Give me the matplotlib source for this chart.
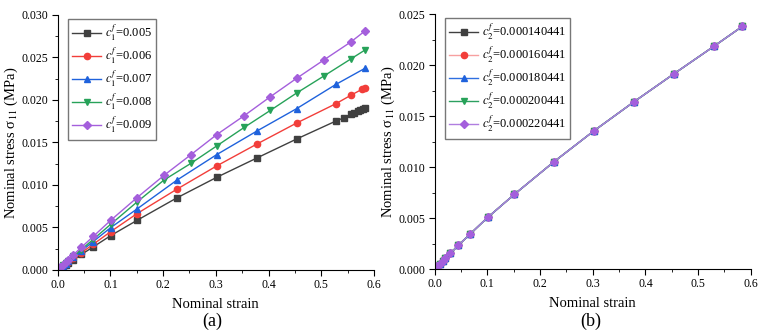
import matplotlib
matplotlib.use('Agg')
import matplotlib.pyplot as plt
from matplotlib.ticker import MultipleLocator, FormatStrFormatter

plt.rcParams['font.family'] = ['Liberation Serif', 'DejaVu Serif']
plt.rcParams['mathtext.fontset'] = 'stix'

# panel (a): varying c1
strain_a1 = [0, 0.005, 0.01, 0.015, 0.02, 0.03, 0.045, 0.0675, 0.1005, 0.1505, 0.2257, 0.3016,
             0.378, 0.4533, 0.528, 0.543, 0.556, 0.563, 0.569, 0.574, 0.579, 0.583]
stress_a1 = [0, 0.0002, 0.0004, 0.0006, 0.0008, 0.00122, 0.00183, 0.00272, 0.00404, 0.00584, 0.00847, 0.0109,
             0.01318, 0.01541, 0.01753, 0.0179, 0.0183, 0.01848, 0.01866, 0.0188, 0.01895, 0.0191]
strain_a2 = [0, 0.005, 0.01, 0.015, 0.02, 0.03, 0.045, 0.0675, 0.1005, 0.1505, 0.2257, 0.3016,
             0.378, 0.4533, 0.528, 0.556, 0.577, 0.583]
stress_a2 = [0, 0.00023, 0.00046, 0.00068, 0.0009, 0.00136, 0.00203, 0.00303, 0.00451, 0.00663, 0.00949, 0.01224,
             0.01482, 0.01729, 0.01957, 0.02055, 0.02125, 0.02145]
strain_a3 = [0, 0.005, 0.01, 0.015, 0.02, 0.03, 0.045, 0.0675, 0.1005, 0.1505, 0.2257, 0.3016,
             0.378, 0.4533, 0.528, 0.583]
stress_a3 = [0, 0.00025, 0.0005, 0.00075, 0.001, 0.0015, 0.00224, 0.00335, 0.00498, 0.00718, 0.01055, 0.01357,
             0.01635, 0.01898, 0.02184, 0.02373]
strain_a4 = [0, 0.005, 0.01, 0.015, 0.02, 0.03, 0.045, 0.0675, 0.1005, 0.1505, 0.2018, 0.2529, 0.3016,
             0.354, 0.4036, 0.4533, 0.505, 0.556, 0.583]
stress_a4 = [0, 0.00027, 0.00054, 0.0008, 0.00107, 0.0016, 0.0024, 0.00361, 0.00537, 0.00800, 0.01059, 0.01255, 0.01459,
             0.01678, 0.01878, 0.02082, 0.02282, 0.02482, 0.02588]
strain_a5 = [0, 0.005, 0.01, 0.015, 0.02, 0.03, 0.045, 0.0675, 0.1005, 0.1505, 0.2018, 0.2529, 0.3016,
             0.354, 0.4036, 0.4533, 0.505, 0.556, 0.583]
stress_a5 = [0, 0.0003, 0.0006, 0.0009, 0.0012, 0.0018, 0.00267, 0.00395, 0.00584, 0.00851, 0.01114, 0.01357, 0.01592,
             0.01816, 0.02039, 0.02255, 0.02471, 0.02682, 0.02812]
labels_a = ['=0.005', '=0.006', '=0.007', '=0.008', '=0.009']

# panel (b): varying c2 (curves overlap)
strain_b = [0, 0.005, 0.01, 0.015, 0.02, 0.03, 0.045, 0.0675, 0.1005, 0.1513, 0.2266, 0.3025,
            0.378, 0.4538, 0.530, 0.584]
stress_b = [0, 0.00025, 0.0005, 0.00075, 0.00105, 0.00155, 0.00233, 0.00344, 0.00505, 0.00732, 0.01052, 0.01355,
            0.01638, 0.01912, 0.02183, 0.02378]
labels_b = ['=0.000140441', '=0.000160441', '=0.000180441', '=0.000200441', '=0.000220441']

colors = ['#404040', '#f23e3a', '#1f62dc', '#27a259', '#a45fdc']
colors_b = ['#404040', '#f7a0a0', '#2f6fe0', '#2ca060', '#b07ee0']
markers = ['s', 'o', '^', 'v', 'D']
msizes = [4, 4.5, 5, 5, 4]

fig = plt.figure(figsize=(7.68, 3.31), dpi=100)
ax1 = fig.add_axes([0.0751, 0.1843, 0.4118, 0.7704])
ax2 = fig.add_axes([0.566, 0.1873, 0.4115, 0.7704])

series_a = [(strain_a1, stress_a1), (strain_a2, stress_a2), (strain_a3, stress_a3),
            (strain_a4, stress_a4), (strain_a5, stress_a5)]
for i, (xs, ys) in enumerate(series_a):
    ax1.plot(xs, ys, color=colors[i], marker=markers[i], ms=msizes[i], lw=1,
             label=r'$c_1^f$' + labels_a[i])

for i in range(5):
    ax2.plot(strain_b, stress_b, color=colors_b[i], marker=markers[i], ms=msizes[i], lw=1,
             mfc=colors[i], mec=colors[i], label=r'$c_2^f$' + labels_b[i])

for ax, ymax, ystep in [(ax1, 0.030, 0.005), (ax2, 0.025, 0.005)]:
    ax.set_xlim(0, 0.6)
    ax.set_ylim(0, ymax)
    ax.xaxis.set_major_locator(MultipleLocator(0.1))
    ax.xaxis.set_minor_locator(MultipleLocator(0.05))
    ax.yaxis.set_major_locator(MultipleLocator(ystep))
    ax.yaxis.set_minor_locator(MultipleLocator(ystep / 2))
    ax.xaxis.set_major_formatter(FormatStrFormatter('%.1f'))
    ax.yaxis.set_major_formatter(FormatStrFormatter('%.3f'))
    ax.spines['top'].set_visible(False)
    ax.spines['right'].set_visible(False)
    ax.tick_params(which='major', direction='out', length=4, width=0.8, labelsize=8.5, pad=2.5)
    ax.tick_params(which='minor', direction='out', length=2, width=0.6)
    ax.set_xlabel('Nominal strain', fontsize=10.5, labelpad=5)
    ax.set_ylabel('Nominal stress σ$_{11}$ (MPa)', fontsize=10.5, labelpad=1)
    ax.legend(loc='upper left', bbox_to_anchor=(0.02, 1.0), fontsize=9, frameon=True,
              fancybox=False, edgecolor='#555555', handlelength=2.3, handletextpad=0.3,
              labelspacing=0.22, borderpad=0.35, borderaxespad=0.3)

fig.text(0.276, 0.03, '(a)', fontsize=13, ha='center', va='center')
fig.text(0.7695, 0.03, '(b)', fontsize=13, ha='center', va='center')

fig.savefig('out.png', dpi=100)
